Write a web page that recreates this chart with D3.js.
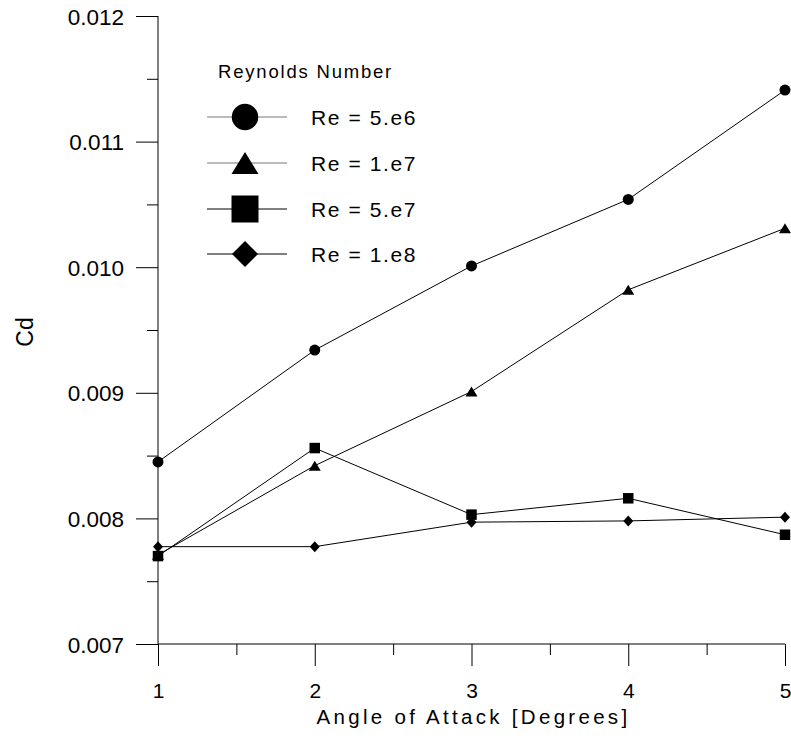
<!DOCTYPE html>
<html>
<head>
<meta charset="utf-8">
<script src="https://cdn.jsdelivr.net/npm/d3@7"></script>
<style>
  html, body { margin: 0; padding: 0; background: #fff; }
  svg { display: block; font-family: "Liberation Sans", Arial, sans-serif; }
</style>
</head>
<body>
<svg id="chart" width="791" height="738"></svg>
<script>
const angles = [1, 2, 3, 4, 5];
const seriesNames = ["Re = 5.e6", "Re = 1.e7", "Re = 5.e7", "Re = 1.e8"];
const re5e6 = [0.00845, 0.00934, 0.01001, 0.01054, 0.01141];
const re1e7 = [0.00771, 0.00842, 0.00901, 0.00982, 0.01031];
const re5e7 = [0.00770, 0.00856, 0.00803, 0.00816, 0.00787];
const re1e8 = [0.007775, 0.007775, 0.00797, 0.00798, 0.00801];
const markerTypes = ["circle", "triangle", "square", "diamond"];
const yTicks = [0.007, 0.008, 0.009, 0.010, 0.011, 0.012];
const yMinorTicks = [0.0075, 0.0085, 0.0095, 0.0105, 0.0115];
const xTicks = [1, 2, 3, 4, 5];
const xMinorTicks = [1.5, 2.5, 3.5, 4.5];
const xTitle = "Angle of Attack [Degrees]";
const yTitle = "Cd";
const legendTitle = "Reynolds Number";

const allSeries = [re5e6, re1e7, re5e7, re1e8];

const svg = d3.select("#chart");
const mLeft = 158, mRight = 785, mTop = 16, mBottom = 644;
const FONT = '"Liberation Sans", Arial, sans-serif';

const x = d3.scaleLinear().domain([1, 5]).range([mLeft, mRight]);
const y = d3.scaleLinear().domain([0.007, 0.012]).range([mBottom, mTop]);

// marker path generator: w = width, h = height (bbox centred on the point)
function markerPath(type, w, h) {
  const p = d3.path();
  const hw = w / 2, hh = h / 2;
  if (type === "circle") {
    p.moveTo(hw, 0); p.arc(0, 0, hw, 0, 2 * Math.PI);
  } else if (type === "triangle") {
    p.moveTo(0, -hh); p.lineTo(hw, hh); p.lineTo(-hw, hh); p.closePath();
  } else if (type === "square") {
    p.rect(-hw, -hh, w, h);
  } else {
    p.moveTo(0, -hh); p.lineTo(hw, 0); p.lineTo(0, hh); p.lineTo(-hw, 0); p.closePath();
  }
  return p.toString();
}

// Y axis
const yAxis = d3.axisLeft(y).tickValues(yTicks).tickFormat(d3.format(".3f"))
  .tickSize(22).tickPadding(12);
const gy = svg.append("g").attr("transform", `translate(${mLeft},0)`).call(yAxis);
gy.select(".domain").remove();
gy.selectAll("text").attr("font-size", 22.5).attr("fill", "#000").attr("font-family", FONT)
  .attr("dy", "0.36em");
gy.selectAll("line").attr("stroke", "#000");
const gyMinor = svg.append("g").attr("transform", `translate(${mLeft},0)`)
  .call(d3.axisLeft(y).tickValues(yMinorTicks).tickSize(11).tickFormat(""));
gyMinor.select(".domain").remove();
gyMinor.selectAll("line").attr("stroke", "#000");

// X axis
const xAxis = d3.axisBottom(x).tickValues(xTicks).tickFormat(d3.format("d"))
  .tickSize(22).tickPadding(17);
const gx = svg.append("g").attr("transform", `translate(0,${mBottom})`).call(xAxis);
gx.select(".domain").remove();
gx.selectAll("text").attr("font-size", 21).attr("fill", "#000").attr("font-family", FONT);
gx.selectAll("line").attr("stroke", "#000");
const gxMinor = svg.append("g").attr("transform", `translate(0,${mBottom})`)
  .call(d3.axisBottom(x).tickValues(xMinorTicks).tickSize(11).tickFormat(""));
gxMinor.select(".domain").remove();
gxMinor.selectAll("line").attr("stroke", "#000");

// Axis lines
svg.append("line").attr("x1", mLeft).attr("x2", mLeft).attr("y1", mTop).attr("y2", mBottom)
  .attr("stroke", "#000");
svg.append("line").attr("x1", mLeft).attr("x2", mRight).attr("y1", mBottom).attr("y2", mBottom)
  .attr("stroke", "#000");

// Titles
svg.append("text").attr("x", (mLeft + mRight) / 2 + 2).attr("y", 724)
  .attr("text-anchor", "middle").attr("font-size", 20.5).attr("letter-spacing", 3.3)
  .text(xTitle);
svg.append("text").attr("transform", "translate(33,332) rotate(-90)")
  .attr("text-anchor", "middle").attr("font-size", 23)
  .text(yTitle);

// Series
const line = d3.line().x((d, i) => x(angles[i])).y(d => y(d));
allSeries.forEach((vals) => {
  svg.append("path").datum(vals).attr("d", line)
    .attr("fill", "none").attr("stroke", "#000").attr("stroke-width", 1);
});
const plotMarkerSize = { circle: [11, 11], triangle: [12, 10], square: [10.5, 10.5], diamond: [10, 11] };
allSeries.forEach((vals, si) => {
  const t = markerTypes[si];
  const [w, h] = plotMarkerSize[t];
  svg.append("g").selectAll("path").data(vals).join("path")
    .attr("transform", (d, i) => `translate(${x(angles[i])},${y(d)})`)
    .attr("d", markerPath(t, w, h))
    .attr("fill", "#000");
});

// Legend
svg.append("text").attr("x", 218).attr("y", 78).attr("font-size", 18.5)
  .attr("letter-spacing", 1.8).text(legendTitle);
const legendRowsY = [117, 163, 209, 254];
const legendMarkerSize = { circle: [26.5, 26.5], triangle: [27, 22], square: [27, 27], diamond: [26, 26] };
seriesNames.forEach((name, i) => {
  const ly = legendRowsY[i];
  svg.append("line").attr("x1", 207).attr("x2", 287).attr("y1", ly).attr("y2", ly)
    .attr("stroke", i < 2 ? "#777" : "#000");
  const t = markerTypes[i];
  const [w, h] = legendMarkerSize[t];
  svg.append("path").attr("transform", `translate(245,${ly})`)
    .attr("d", markerPath(t, w, h)).attr("fill", "#000");
  svg.append("text").attr("x", 311).attr("y", ly + 8).attr("font-size", 21)
    .attr("letter-spacing", 1.6).text(name);
});
</script>
</body>
</html>
